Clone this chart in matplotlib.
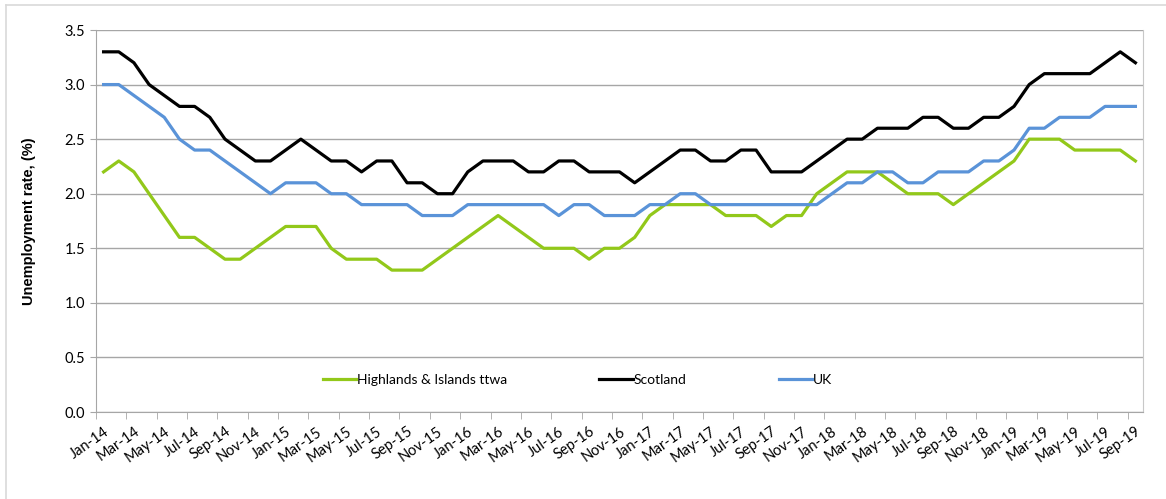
import numpy as np
import matplotlib
matplotlib.use("Agg")
import matplotlib.pyplot as plt
from matplotlib.lines import Line2D

plt.rcParams['font.family'] = ['Lato', 'DejaVu Sans']

# monthly, Jan-14 .. Sep-19
months = ["Jan", "Feb", "Mar", "Apr", "May", "Jun",
          "Jul", "Aug", "Sep", "Oct", "Nov", "Dec"]
labels = ["%s-%d" % (months[i % 12], 14 + i // 12) for i in range(69)]

highlands = [2.2, 2.3, 2.2, 2.0, 1.8, 1.6, 1.6, 1.5, 1.4, 1.4, 1.5, 1.6,
             1.7, 1.7, 1.7, 1.5, 1.4, 1.4, 1.4, 1.3, 1.3, 1.3, 1.4,
             1.5, 1.6, 1.7, 1.8, 1.7, 1.6, 1.5, 1.5, 1.5, 1.4, 1.5, 1.5,
             1.6, 1.8, 1.9, 1.9, 1.9, 1.9, 1.8, 1.8, 1.8, 1.7, 1.8,
             1.8, 2.0, 2.1, 2.2, 2.2, 2.2, 2.1, 2.0, 2.0, 2.0, 1.9, 2.0,
             2.1, 2.2, 2.3, 2.5, 2.5, 2.5, 2.4, 2.4, 2.4, 2.4, 2.3]
scotland = [3.3, 3.3, 3.2, 3.0, 2.9, 2.8, 2.8, 2.7, 2.5, 2.4, 2.3, 2.3,
            2.4, 2.5, 2.4, 2.3, 2.3, 2.2, 2.3, 2.3, 2.1, 2.1, 2.0,
            2.0, 2.2, 2.3, 2.3, 2.3, 2.2, 2.2, 2.3, 2.3, 2.2, 2.2, 2.2,
            2.1, 2.2, 2.3, 2.4, 2.4, 2.3, 2.3, 2.4, 2.4, 2.2, 2.2,
            2.2, 2.3, 2.4, 2.5, 2.5, 2.6, 2.6, 2.6, 2.7, 2.7, 2.6, 2.6,
            2.7, 2.7, 2.8, 3.0, 3.1, 3.1, 3.1, 3.1, 3.2, 3.3, 3.2]
uk = [3.0, 3.0, 2.9, 2.8, 2.7, 2.5, 2.4, 2.4, 2.3, 2.2, 2.1, 2.0,
      2.1, 2.1, 2.1, 2.0, 2.0, 1.9, 1.9, 1.9, 1.9, 1.8, 1.8,
      1.8, 1.9, 1.9, 1.9, 1.9, 1.9, 1.9, 1.8, 1.9, 1.9, 1.8, 1.8,
      1.8, 1.9, 1.9, 2.0, 2.0, 1.9, 1.9, 1.9, 1.9, 1.9, 1.9,
      1.9, 1.9, 2.0, 2.1, 2.1, 2.2, 2.2, 2.1, 2.1, 2.2, 2.2, 2.2,
      2.3, 2.3, 2.4, 2.6, 2.6, 2.7, 2.7, 2.7, 2.8, 2.8, 2.8]

x = np.arange(len(labels))

fig = plt.figure(figsize=(11.66, 4.99), dpi=100)
ax = fig.add_axes([96/1166, 1-412/499, (1143-96)/1166, (412-30)/499])

ax.plot(x, highlands, color='#92C81A', lw=2.3, label='Highlands & Islands ttwa', solid_joinstyle='round')
ax.plot(x, scotland, color='black', lw=2.3, label='Scotland', solid_joinstyle='round')
ax.plot(x, uk, color='#5A93D8', lw=2.3, label='UK', solid_joinstyle='round')

ax.set_xlim(-0.5, len(x) - 0.5)
ax.set_ylim(0, 3.5)
ax.set_yticks(np.arange(0, 3.51, 0.5))
ax.set_yticklabels(["%.1f" % v for v in np.arange(0, 3.51, 0.5)], fontsize=10.5)
ax.yaxis.grid(True, color='#A6A6A6', lw=1)
ax.set_axisbelow(True)

ax.set_xticks(x[::2])
ax.set_xticklabels(labels[::2], rotation=35, ha='right', rotation_mode='anchor', fontsize=10.5)
ax.set_xticks(np.arange(-0.5, len(x), 2), minor=True)
ax.tick_params(axis='x', which='major', length=0, pad=9)
ax.tick_params(axis='x', which='minor', length=5, color='#A6A6A6')
ax.tick_params(axis='y', length=4, color='#A6A6A6', pad=4)

for s in ['left', 'bottom', 'right']:
    ax.spines[s].set_color('#A6A6A6')
ax.spines['top'].set_visible(False)
ax.spines['right'].set_color('#C8C8C8')

ax.set_ylabel('Unemployment rate, (%)', fontsize=10.5, fontweight='bold',
              family=['Liberation Sans Narrow', 'Liberation Sans', 'DejaVu Sans'], labelpad=20)

ax.legend(loc='center', bbox_to_anchor=(0.46, 0.084), ncol=3, frameon=False,
          fontsize=10, handlelength=2.4, handletextpad=0.1, columnspacing=6.6)

# outer chart border
fig.add_artist(Line2D([6/1166, 6/1166], [0, 1-5/499], color='#D9D9D9', lw=1.2, transform=fig.transFigure))
fig.add_artist(Line2D([6/1166, 1], [1-5/499, 1-5/499], color='#D9D9D9', lw=1.2, transform=fig.transFigure))

fig.savefig('out.png', dpi=100)
